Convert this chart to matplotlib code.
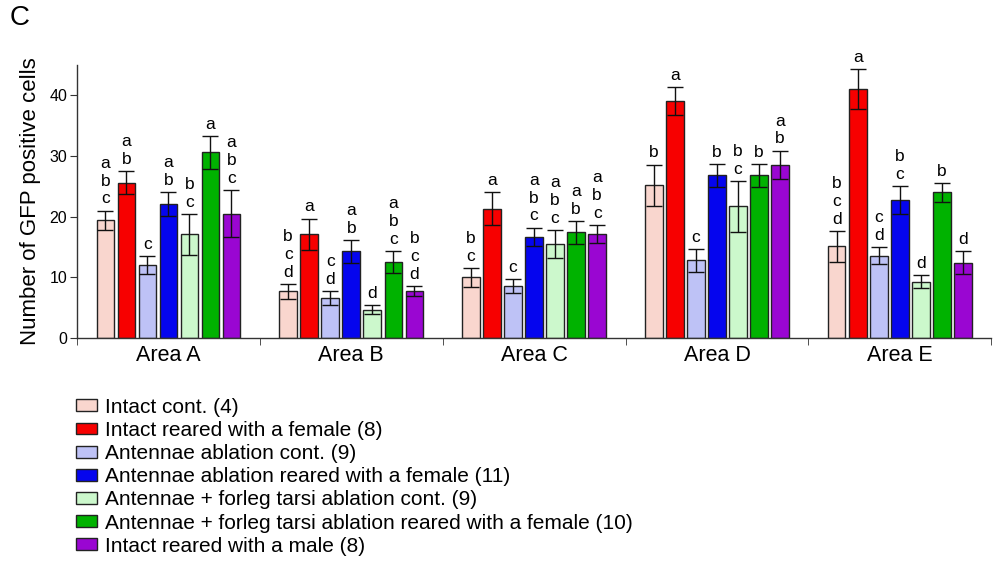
import numpy as np
import matplotlib
matplotlib.use("Agg")
import matplotlib.pyplot as plt
import matplotlib.patches as mpatches

plt.rcParams["font.family"] = ["Liberation Sans", "DejaVu Sans"]

# ── data ──────────────────────────────────────────────────────────────────────
areas = ["Area A", "Area B", "Area C", "Area D", "Area E"]

groups = [
    "Intact cont. (4)",
    "Intact reared with a female (8)",
    "Antennae ablation cont. (9)",
    "Antennae ablation reared with a female (11)",
    "Antennae + forleg tarsi ablation cont. (9)",
    "Antennae + forleg tarsi ablation reared with a female (10)",
    "Intact reared with a male (8)",
]

# mean per group, one list per area
means = [
    [19.4, 25.6, 12.0, 22.1, 17.1, 30.6, 20.5],
    [7.7, 17.1, 6.6, 14.3, 4.7, 12.5, 7.8],
    [10.0, 21.3, 8.6, 16.7, 15.5, 17.4, 17.1],
    [25.2, 39.1, 12.8, 26.8, 21.7, 26.8, 28.6],
    [15.1, 41.1, 13.6, 22.8, 9.3, 24.0, 12.4],
]
sems = [
    [1.6, 1.9, 1.5, 1.9, 3.4, 2.7, 3.9],
    [1.2, 2.6, 1.1, 1.9, 0.7, 1.8, 0.8],
    [1.6, 2.7, 1.1, 1.5, 2.3, 1.9, 1.5],
    [3.4, 2.3, 1.9, 1.9, 4.2, 1.9, 2.3],
    [2.6, 3.3, 1.4, 2.3, 1.1, 1.5, 1.9],
]
letters = [
    ["abc", "ab", "c", "ab", "bc", "a", "abc"],
    ["bcd", "a", "cd", "ab", "d", "abc", "bcd"],
    ["bc", "a", "c", "abc", "abc", "ab", "abc"],
    ["b", "a", "c", "b", "bc", "b", "ab"],
    ["bcd", "a", "cd", "bc", "d", "b", "d"],
]

colors = ["#F9D6CE", "#F70000", "#BEC2F6", "#0505EE",
          "#CCF8CC", "#00B200", "#9A06D2"]

# ── chart ─────────────────────────────────────────────────────────────────────
fig = plt.figure(figsize=(9.97, 5.71), dpi=100)
ax = fig.add_axes([0.0772, 0.408, 0.917, 0.478])

n = len(groups)
pitch = 0.115
width = 0.096
offsets = (np.arange(n) - (n - 1) / 2) * pitch

for gi in range(n):
    xs = np.arange(len(areas)) + offsets[gi]
    m = [means[a][gi] for a in range(len(areas))]
    e = [sems[a][gi] for a in range(len(areas))]
    ax.bar(xs, m, width=width, color=colors[gi], edgecolor="#222222",
           linewidth=1.0, zorder=2)
    ax.errorbar(xs, m, yerr=e, fmt="none", ecolor="#111111",
                elinewidth=1.0, capsize=6, capthick=1.0, zorder=3)
    for a in range(len(areas)):
        ax.annotate("\n".join(letters[a][gi]), (xs[a], m[a] + e[a]),
                    xytext=(0, 3), textcoords="offset points",
                    ha="center", va="bottom", fontsize=12.5,
                    linespacing=1.24)

ax.set_xlim(-0.5, len(areas) - 0.5)
ax.set_ylim(0, 45)
ax.set_yticks([0, 10, 20, 30, 40])
ax.tick_params(axis="y", labelsize=11.5, length=5, color="#333333", pad=2)

# group labels centred, ticks at boundaries
ax.set_xticks(np.arange(len(areas)))
ax.set_xticklabels(areas, fontsize=15.5)
ax.tick_params(axis="x", length=0, pad=5)
ax.set_xticks(np.arange(len(areas) + 1) - 0.5, minor=True)
ax.tick_params(axis="x", which="minor", length=5, color="#333333")

for s in ["top", "right"]:
    ax.spines[s].set_visible(False)
for s in ["left", "bottom"]:
    ax.spines[s].set_color("#333333")
    ax.spines[s].set_linewidth(1.0)

ax.set_ylabel("Number of GFP positive cells", fontsize=16, labelpad=6)

fig.text(0.01, 0.992, "C", fontsize=20, va="top", ha="left")

handles = [mpatches.Patch(facecolor=c, edgecolor="#222222", linewidth=1.0, label=g)
           for c, g in zip(colors, groups)]
fig.legend(handles=handles, loc="upper left", bbox_to_anchor=(0.068, 0.318),
           frameon=False, fontsize=15, handlelength=1.0, handleheight=0.5,
           handletextpad=0.4, labelspacing=0.2, borderaxespad=0)

fig.savefig("out.png", dpi=100)
